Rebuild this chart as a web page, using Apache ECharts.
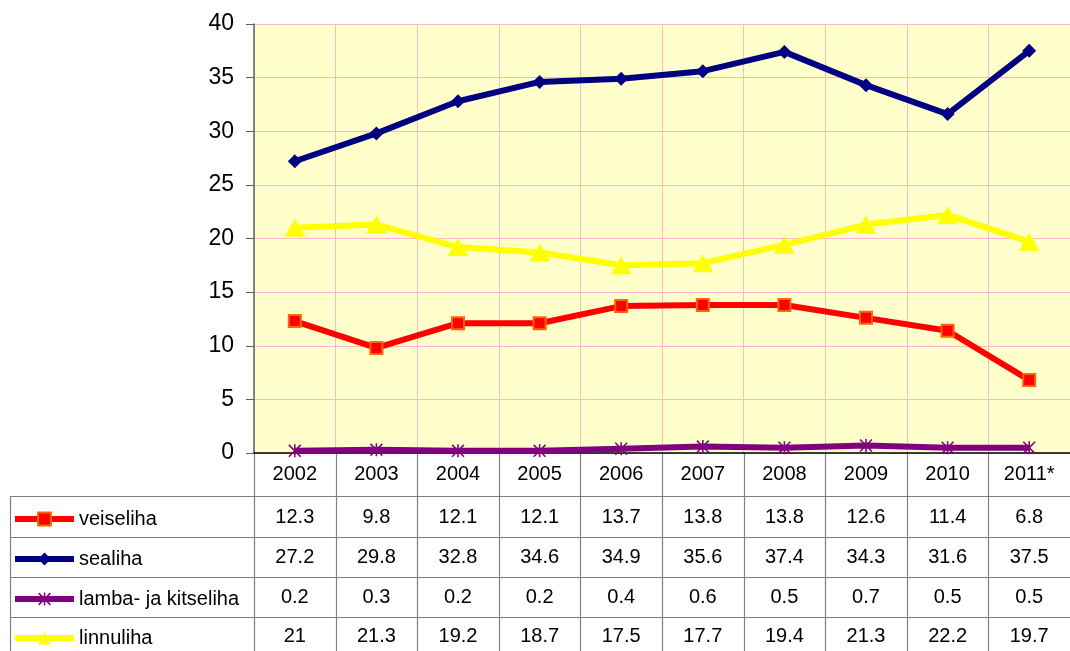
<!DOCTYPE html>
<html>
<head>
<meta charset="utf-8">
<script src="https://cdn.jsdelivr.net/npm/echarts@6/dist/echarts.min.js"></script>
<style>
  html, body { margin: 0; padding: 0; background: #fff; }
  #chart { width: 1070px; height: 651px; }
</style>
</head>
<body>
<div id="chart"></div>
<script>
// data
const years = ['2002', '2003', '2004', '2005', '2006', '2007', '2008', '2009', '2010', '2011*'];
const veiseliha = [12.3, 9.8, 12.1, 12.1, 13.7, 13.8, 13.8, 12.6, 11.4, 6.8];
const sealiha = [27.2, 29.8, 32.8, 34.6, 34.9, 35.6, 37.4, 34.3, 31.6, 37.5];
const lambaKitseliha = [0.2, 0.3, 0.2, 0.2, 0.4, 0.6, 0.5, 0.7, 0.5, 0.5];
const linnuliha = [21, 21.3, 19.2, 18.7, 17.5, 17.7, 19.4, 21.3, 22.2, 19.7];
const seriesNames = ['veiseliha', 'sealiha', 'lamba- ja kitseliha', 'linnuliha'];
const yMin = 0, yMax = 40, yStep = 5;

const FONT = 'Liberation Sans, Arial, sans-serif';
const GRID = { left: 254, right: 0, top: 24, bottom: 198 };
const TABLE_LINE = '#808080';
// table row lines (header row sits under the plot)
const rowLines = [496, 537, 577, 617];
const rowCenters = [517, 557, 597, 636];

// asterisk marker (vertical bar + X)
const starPath = 'path://M4.4,0h1.2v10h-1.2z M0,0.85l0.85,-0.85l9.15,9.15l-0.85,0.85z M9.15,0l0.85,0.85l-9.15,9.15l-0.85,-0.85z';

const chart = echarts.init(document.getElementById('chart'));

const lineSeries = [
  {
    name: seriesNames[0], data: veiseliha,
    symbol: 'rect', symbolSize: 12,
    lineStyle: { color: '#FF0000', width: 6 },
    itemStyle: { color: '#FF0000', borderColor: '#FF6600', borderWidth: 2 }
  },
  {
    name: seriesNames[1], data: sealiha,
    symbol: 'diamond', symbolSize: 14,
    lineStyle: { color: '#000080', width: 6 },
    itemStyle: { color: '#000080' }
  },
  {
    name: seriesNames[2], data: lambaKitseliha,
    symbol: starPath, symbolSize: 13,
    lineStyle: { color: '#800080', width: 6 },
    itemStyle: { color: '#800080' }
  },
  {
    name: seriesNames[3], data: linnuliha,
    symbol: 'triangle', symbolSize: [21, 18],
    lineStyle: { color: '#FFFF00', width: 6 },
    itemStyle: { color: '#FFFF00' }
  }
].map(s => Object.assign({ type: 'line', showAllSymbol: true, animation: false, z: 3 }, s));

// one legend per table row so each key sits in its own row
const legends = seriesNames.map((name, i) => ({
  orient: 'vertical',
  left: 12,
  top: rowCenters[i] - 8,
  padding: 0,
  itemWidth: 59,
  itemHeight: 16,
  selectedMode: false,
  lineStyle: { width: 6 },
  textStyle: { fontFamily: FONT, fontSize: 20, color: '#000', lineHeight: 20 },
  data: [name]
}));

const option = {
  animation: false,
  backgroundColor: '#ffffff',
  grid: Object.assign({ show: true, backgroundColor: '#FFFFCC', borderWidth: 0 }, GRID),
  legend: legends,
  xAxis: {
    type: 'category',
    data: years,
    boundaryGap: true,
    axisLine: { show: true, lineStyle: { color: '#000', width: 1.5 } },
    axisTick: { show: false },
    axisLabel: { fontFamily: FONT, fontSize: 20, color: '#000', margin: 11, interval: 0 },
    splitLine: { show: true, interval: 0, lineStyle: { color: '#FFB6C8', width: 1 } }
  },
  yAxis: {
    type: 'value',
    min: yMin, max: yMax, interval: yStep,
    axisLine: { show: true, lineStyle: { color: '#606060', width: 1.5 } },
    axisTick: { show: true, length: 8, lineStyle: { color: '#606060' } },
    axisLabel: { fontFamily: FONT, fontSize: 23, color: '#000', margin: 20 },
    splitLine: { show: true, lineStyle: { color: '#FFB6C8', width: 1 } }
  },
  series: lineSeries
};
chart.setOption(option);

// data table under the plot, placed from the category axis
const allValues = [veiseliha, sealiha, lambaKitseliha, linnuliha];
const x0 = chart.convertToPixel({ xAxisIndex: 0 }, years[0]);
const x1 = chart.convertToPixel({ xAxisIndex: 0 }, years[1]);
const colW = x1 - x0;
const plotBottom = 651 - GRID.bottom;
const rightX = 1070 - GRID.right;
const graphics = [];

for (let i = 0; i < years.length; i++) {
  const x = Math.round(x0 - colW / 2 + i * colW) + 0.5;
  graphics.push({
    type: 'line', silent: true,
    shape: { x1: x, y1: plotBottom, x2: x, y2: 651 },
    style: { stroke: TABLE_LINE, lineWidth: 1.2 }
  });
}
graphics.push({
  type: 'line', silent: true,
  shape: { x1: 10.5, y1: rowLines[0], x2: 10.5, y2: 651 },
  style: { stroke: TABLE_LINE, lineWidth: 1.2 }
});
rowLines.forEach(y => {
  graphics.push({
    type: 'line', silent: true,
    shape: { x1: 10, y1: y + 0.5, x2: rightX, y2: y + 0.5 },
    style: { stroke: TABLE_LINE, lineWidth: 1.2 }
  });
});
allValues.forEach((vals, r) => {
  vals.forEach((v, c) => {
    graphics.push({
      type: 'text', silent: true,
      x: chart.convertToPixel({ xAxisIndex: 0 }, years[c]),
      y: rowCenters[r],
      style: {
        text: String(v), fontFamily: FONT, fontSize: 20, fill: '#000',
        align: 'center', verticalAlign: 'middle'
      }
    });
  });
});
chart.setOption({ graphic: graphics });
</script>
</body>
</html>
